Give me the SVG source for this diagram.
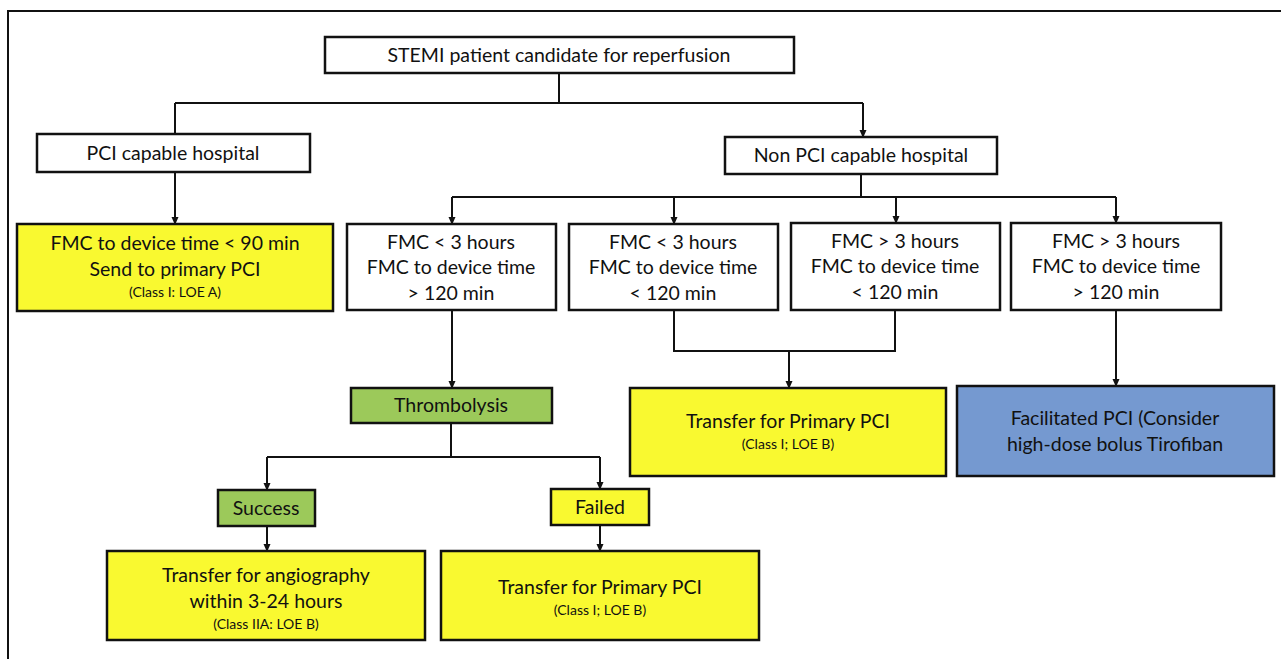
<svg xmlns="http://www.w3.org/2000/svg" width="1281" height="659" viewBox="0 0 1281 659">
<style>
.box{stroke:#111;stroke-width:2.5}
.w{fill:#fff}.y{fill:#f9f930}.g{fill:#9cc95a}.b{fill:#7599d0}
text{font-family:Lato,"Open Sans","Liberation Sans",sans-serif;fill:#111;text-anchor:middle}
.t{font-size:19.5px}
.s{font-size:14px}
.c{fill:none;stroke:#111;stroke-width:2}
</style>
<defs>
<marker id="ah" markerWidth="8" markerHeight="8" refX="7" refY="4" orient="auto" markerUnits="userSpaceOnUse">
<path d="M0,0.5 L8,4 L0,7.5 z" fill="#111"/>
</marker>
</defs>
<rect x="0" y="0" width="1281" height="659" fill="#fff"/>
<path d="M8,659 V11 H1281" fill="none" stroke="#111" stroke-width="2"/>

<g id="connectors">
<path class="c" d="M559,73 V103 M175,103 H863 M175,103 V134"/>
<path class="c" d="M863,103 V137" marker-end="url(#ah)"/>
<path class="c" d="M175,172 V224" marker-end="url(#ah)"/>
<path class="c" d="M861,174 V197 M452,197 H1116"/>
<path class="c" d="M452,197 V224" marker-end="url(#ah)"/>
<path class="c" d="M674,197 V224" marker-end="url(#ah)"/>
<path class="c" d="M896,197 V223" marker-end="url(#ah)"/>
<path class="c" d="M1116,197 V223" marker-end="url(#ah)"/>
<path class="c" d="M452,310 V388" marker-end="url(#ah)"/>
<path class="c" d="M451,423 V457 M267,457 H600"/>
<path class="c" d="M267,457 V490" marker-end="url(#ah)"/>
<path class="c" d="M600,457 V489" marker-end="url(#ah)"/>
<path class="c" d="M267,526 V551" marker-end="url(#ah)"/>
<path class="c" d="M600,525 V551" marker-end="url(#ah)"/>
<path class="c" d="M674,310 V351 H895 V310"/>
<path class="c" d="M789,351 V388" marker-end="url(#ah)"/>
<path class="c" d="M1116,310 V386" marker-end="url(#ah)"/>
</g>

<g id="stemi">
<rect class="box w" x="325" y="37" width="469" height="36"/>
<text class="t" x="559" y="62">STEMI patient candidate for reperfusion</text>
</g>
<g id="pci-capable">
<rect class="box w" x="37" y="134" width="273" height="38"/>
<text class="t" x="173" y="160">PCI capable hospital</text>
</g>
<g id="non-pci">
<rect class="box w" x="725" y="137" width="272" height="37"/>
<text class="t" x="861" y="162">Non PCI capable hospital</text>
</g>
<g id="primary-90">
<rect class="box y" x="17" y="224" width="316" height="87"/>
<text class="t" x="175" y="250">FMC to device time &lt; 90 min</text>
<text class="t" x="175" y="276">Send to primary PCI</text>
<text class="s" x="175" y="297">(Class I: LOE A)</text>
</g>
<g id="cond-a">
<rect class="box w" x="347" y="224" width="209" height="86"/>
<text class="t" x="451" y="249">FMC &lt; 3 hours</text>
<text class="t" x="451" y="274">FMC to device time</text>
<text class="t" x="451" y="300">&gt; 120 min</text>
</g>
<g id="cond-b">
<rect class="box w" x="569" y="224" width="209" height="86"/>
<text class="t" x="673" y="249">FMC &lt; 3 hours</text>
<text class="t" x="673" y="274">FMC to device time</text>
<text class="t" x="673" y="300">&lt; 120 min</text>
</g>
<g id="cond-c">
<rect class="box w" x="791" y="223" width="209" height="87"/>
<text class="t" x="895" y="248">FMC &gt; 3 hours</text>
<text class="t" x="895" y="273">FMC to device time</text>
<text class="t" x="895" y="299">&lt; 120 min</text>
</g>
<g id="cond-d">
<rect class="box w" x="1011" y="223" width="210" height="87"/>
<text class="t" x="1116" y="248">FMC &gt; 3 hours</text>
<text class="t" x="1116" y="273">FMC to device time</text>
<text class="t" x="1116" y="299">&gt; 120 min</text>
</g>
<g id="thrombolysis">
<rect class="box g" x="351" y="388" width="201" height="35"/>
<text class="t" x="451" y="412">Thrombolysis</text>
</g>
<g id="success">
<rect class="box g" x="218" y="490" width="97" height="36"/>
<text class="t" x="266" y="515">Success</text>
</g>
<g id="failed">
<rect class="box y" x="551" y="489" width="98" height="36"/>
<text class="t" x="600" y="514">Failed</text>
</g>
<g id="angiography">
<rect class="box y" x="107" y="551" width="318" height="89"/>
<text class="t" x="266" y="582">Transfer for angiography</text>
<text class="t" x="266" y="608">within 3-24 hours</text>
<text class="s" x="266" y="629">(Class IIA: LOE B)</text>
</g>
<g id="primary-failed">
<rect class="box y" x="441" y="551" width="318" height="89"/>
<text class="t" x="600" y="594">Transfer for Primary PCI</text>
<text class="s" x="600" y="615">(Class I; LOE B)</text>
</g>
<g id="primary-transfer">
<rect class="box y" x="630" y="388" width="316" height="88"/>
<text class="t" x="788" y="428">Transfer for Primary PCI</text>
<text class="s" x="788" y="449">(Class I; LOE B)</text>
</g>
<g id="facilitated">
<rect class="box b" x="957" y="386" width="317" height="90"/>
<text class="t" x="1115" y="425">Facilitated PCI (Consider</text>
<text class="t" x="1115" y="451">high-dose bolus Tirofiban</text>
</g>
</svg>
